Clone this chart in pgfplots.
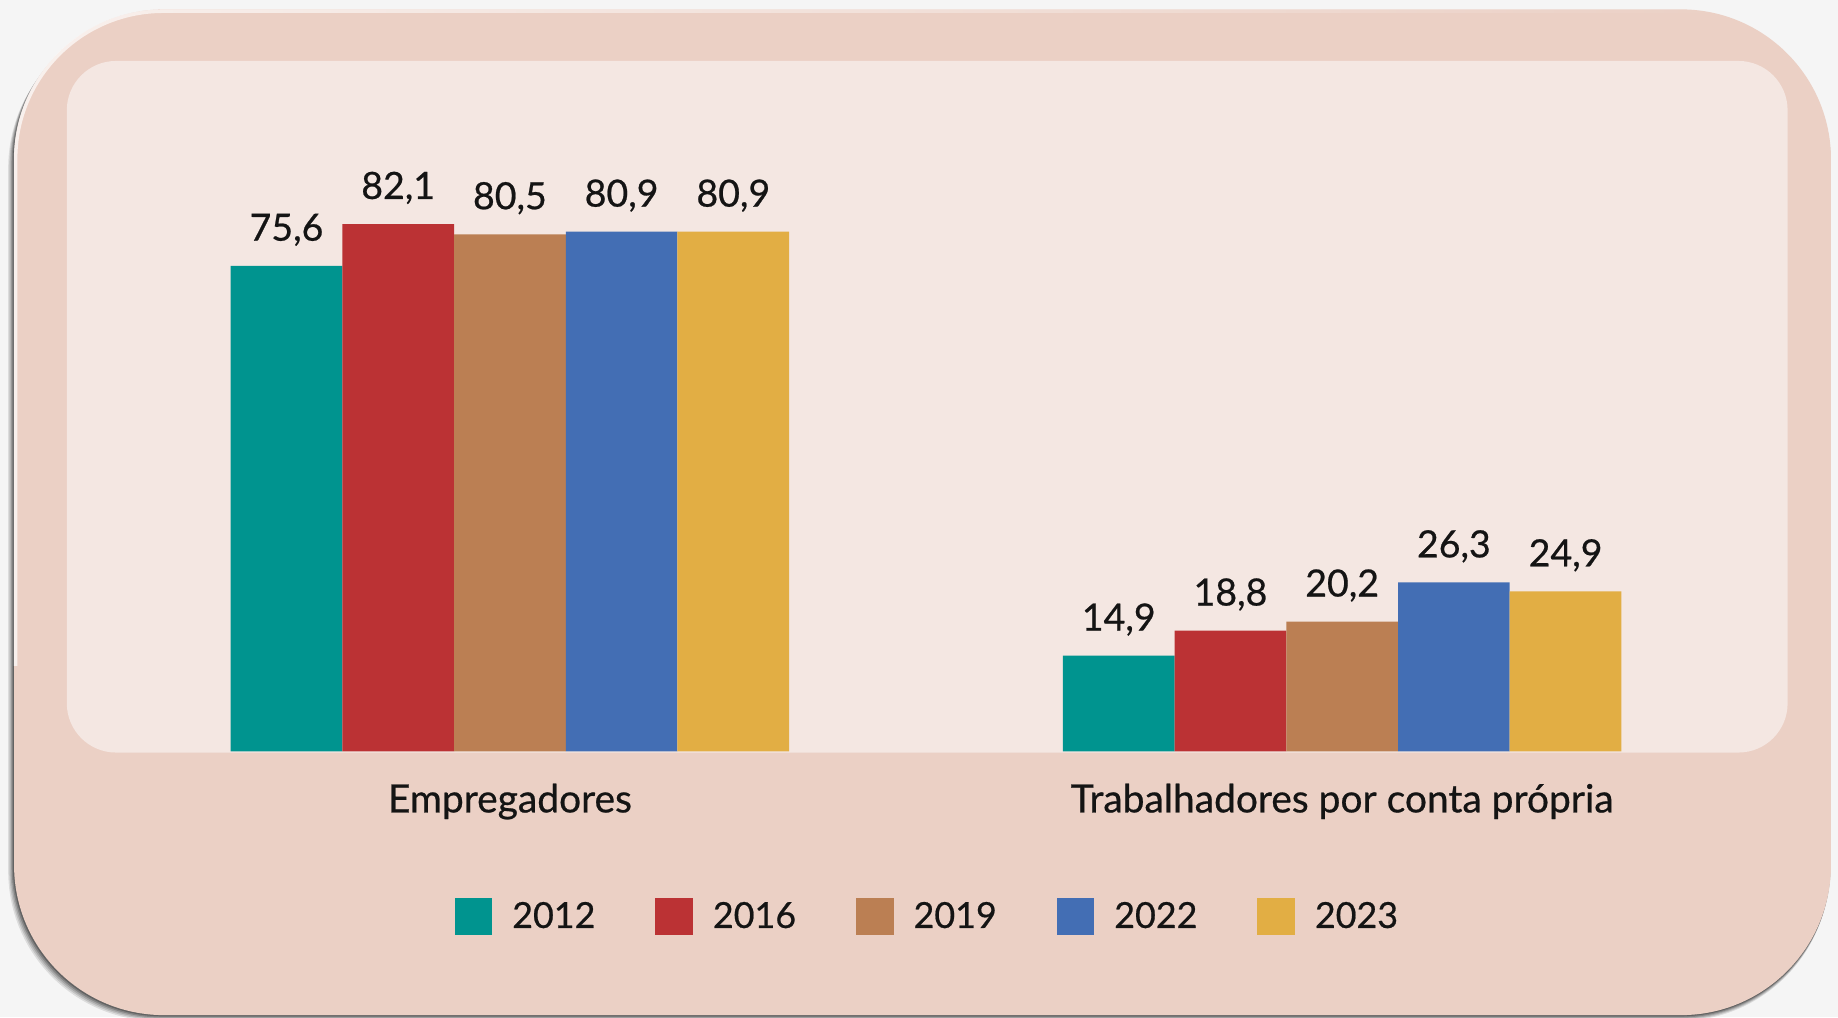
\documentclass[border=0pt]{standalone}
\usepackage{pgfplots}
\pgfplotsset{compat=1.18}
\usepackage{fontspec}
\setmainfont{Lato}
\newfontfamily\lab{Lato}[FakeBold=0.6]
\usetikzlibrary{fadings}
\definecolor{cA}{HTML}{00948F}
\definecolor{cB}{HTML}{BB3234}
\definecolor{cC}{HTML}{BB7F53}
\definecolor{cD}{HTML}{436EB4}
\definecolor{cE}{HTML}{E2AE44}
\definecolor{txt}{HTML}{141414}
\definecolor{outerc}{HTML}{EBD0C5}
\definecolor{innerc}{HTML}{F4E7E2}
\definecolor{bgG}{HTML}{F5F5F5}
\begin{document}
\begin{tikzpicture}[x=0.5pt,y=0.5pt]
\useasboundingbox (0,0) rectangle (1568,868);
\fill[bgG] (0,0) rectangle (1568,868);
% soft shadow (left and bottom)
\foreach \d/\o in {5/0.10,4/0.12,3/0.15,2/0.2,1/0.25}{
  \fill[black, opacity=\o, rounded corners=64pt] (12-\d,2-\d) rectangle (1562-0.3*\d,860-1.5*\d);
}
\fill[outerc, rounded corners=64pt] (12,2) rectangle (1562,860);
\draw[white, line width=1.5pt, opacity=0.7, rounded corners=63pt, path fading=east] (13.5,300) -- (13.5,858.5) -- (1500,858.5);
\fill[innerc, rounded corners=21pt] (57,226) rectangle (1525,816);
\begin{axis}[
  at={(98.5pt,113.5pt)}, anchor=south west,
  scale only axis, width=593pt, height=246.6pt,
  xmin=0, xmax=1186, ymin=0, ymax=90,
  enlargelimits=false, clip=false,
  ybar=0pt, bar width=95.3,
  axis line style={draw=none}, tick style={draw=none},
  ytick=\empty, xtick={238,948},
  xticklabels={Empregadores, Trabalhadores por conta própria},
  xticklabel style={font=\lab\fontsize{16.6}{19}\selectfont, text=txt, yshift=-6pt},
  nodes near coords,
  every node near coord/.append style={font=\lab\fontsize{16}{19}\selectfont, text=txt, yshift=5pt},
  /pgf/number format/assume math mode=true,
  /pgf/number format/use comma,
  /pgf/number format/fixed,
  /pgf/number format/fixed zerofill,
  /pgf/number format/precision=1,
  legend columns=-1,
  legend image code/.code={\fill[#1] (0pt,-8pt) rectangle (16pt,8pt);},
  legend style={at={(0.502,-0.286)}, anchor=center, draw=none, fill=none,
    font=\lab\fontsize{15.3}{19}\selectfont, text=txt,
    /tikz/every odd column/.append style={column sep=6.5pt},
    /tikz/every even column/.append style={column sep=23.6pt}},
]
\addplot[fill=cA, draw=none] coordinates {(238,75.6) (948,14.9)};
\addplot[fill=cB, draw=none] coordinates {(238,82.1) (948,18.8)};
\addplot[fill=cC, draw=none] coordinates {(238,80.5) (948,20.2)};
\addplot[fill=cD, draw=none] coordinates {(238,80.9) (948,26.3)};
\addplot[fill=cE, draw=none] coordinates {(238,80.9) (948,24.9)};
\legend{2012,2016,2019,2022,2023}
\end{axis}
\end{tikzpicture}
\end{document}
